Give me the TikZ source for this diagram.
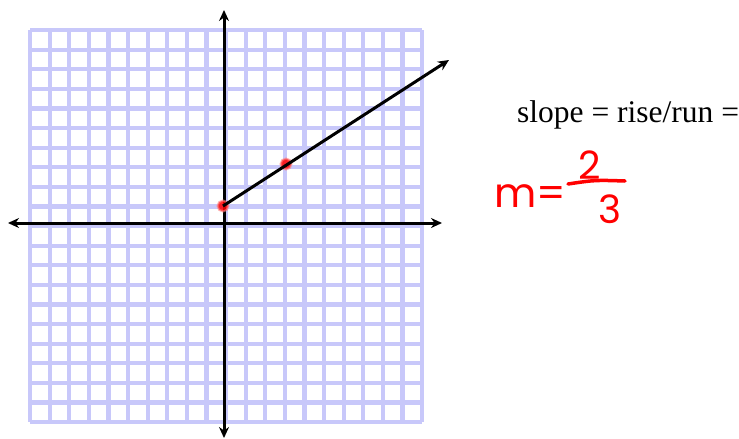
\documentclass[tikz,border=0pt]{standalone}
\usepackage{fontspec}
\setmainfont{Liberation Serif}
\newfontfamily\handfont{Poppins}
\usepackage{tikz}
\usetikzlibrary{
  arrows.meta,
  positioning,
  calc
}

\begin{document}
\begin{tikzpicture}[
      x=1pt, y=-1pt,
      >={Stealth[length=11pt,width=10pt]},
      gridline/.style={draw={rgb,255:red,200;green,200;blue,250}, line width=4.2pt},
      eixo/.style={<->, line width=3pt, black},
      reta/.style={->, line width=3pt, black},
      ponto/.style={circle, fill=red, fill opacity=0.85, draw=red!50, draw opacity=0.6, line width=2pt, minimum size=11pt, inner sep=0pt},
      texto/.style={font=\fontsize{31.5}{33}\selectfont, inner sep=0pt},
      mao/.style={text=red, font=\handfont\fontsize{41}{43}\selectfont, inner sep=0pt},
      barra/.style={draw=red, line width=3.5pt, line cap=round}
  ]
      \useasboundingbox (0,0) rectangle (739,439);

      % Malha
      \foreach \i in {0,...,20} {
          \draw[gridline] ({30+19.6*\i},30) -- ({30+19.6*\i},422);
          \draw[gridline] (30,{30+19.6*\i}) -- (422,{30+19.6*\i});
      }

      % Eixos
      \coordinate (xesq) at (8,223);
      \coordinate (xdir) at (442,223);
      \coordinate (ycima) at (224,10);
      \coordinate (ybaixo) at (224,438);
      \draw[eixo] (xesq) -- (xdir);
      \draw[eixo] (ybaixo) -- (ycima);

      % Reta e pontos
      \node[ponto] (p0) at (223,206) {};
      \node[ponto] (p1) at (286,164) {};
      \coordinate (fim) at (449,60);
      \draw[reta] (p0.center) -- (fim);

      % Textos
      \node[texto, anchor=base west] (slope) at (517,122) {slope = rise/run =};
      \node[mao, anchor=base west] (m) at (494,207) {m=};
      \node[mao, font=\handfont\fontsize{39}{41}\selectfont] (dois) at (590,165) {2};
      \node[mao, font=\handfont\fontsize{39}{41}\selectfont] (tres) at (610,209) {3};
      \draw[barra] (568,184) .. controls (595,180) .. (625,181);

  \end{tikzpicture}
\end{document}
